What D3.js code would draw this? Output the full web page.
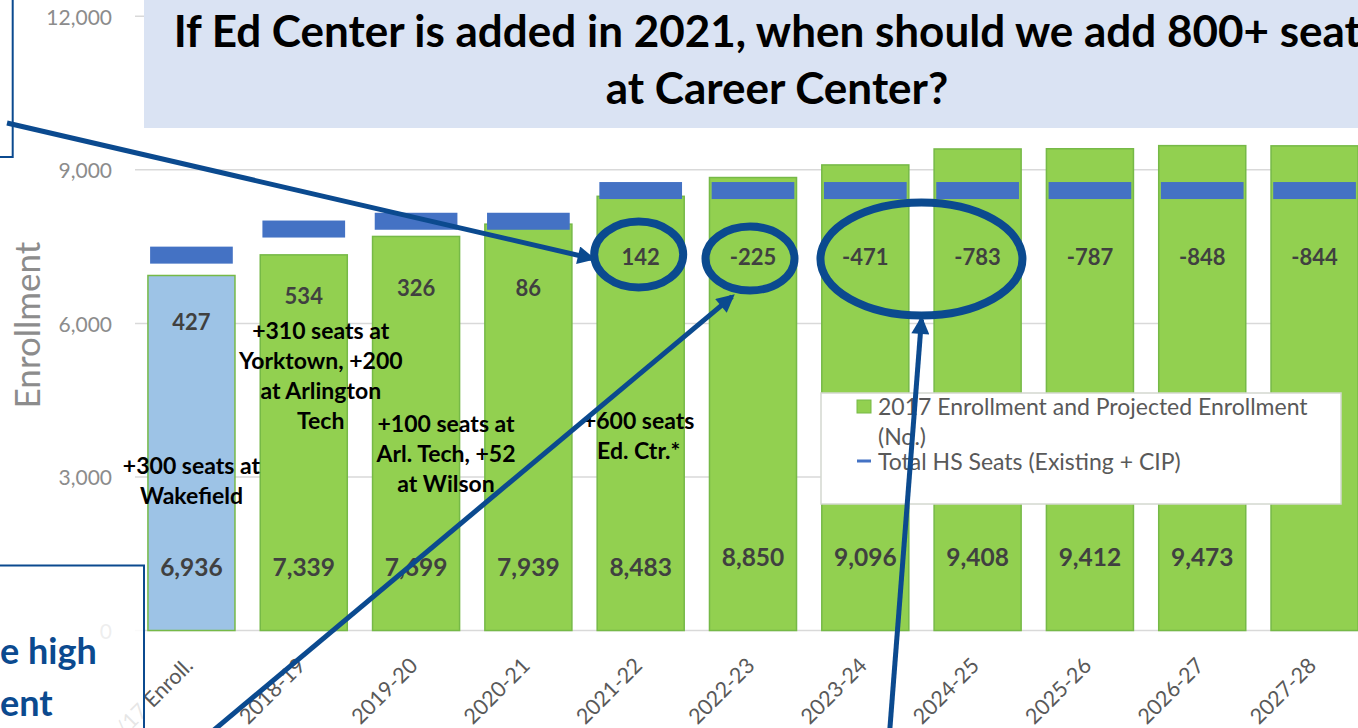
<!DOCTYPE html>
<html><head><meta charset="utf-8">
<script src="https://cdn.jsdelivr.net/npm/d3@7"></script>
<style>body{margin:0;background:#fff;overflow:hidden} svg{display:block;font-family:Lato,"Open Sans",sans-serif}</style>
</head><body><svg id="c" width="1358" height="728"></svg>
<script>
// ---------- data ----------
const categories = ["9/30/17 Enroll.","2018-19","2019-20","2020-21","2021-22","2022-23","2023-24","2024-25","2025-26","2026-27","2027-28"];
const enrollment = [6936,7339,7699,7939,8483,8850,9096,9408,9412,9473,9469];
const hsSeats    = [7363,7873,8025,8025,8625,8625,8625,8625,8625,8625,8625];
const surplus    = [427,534,326,86,142,-225,-471,-783,-787,-848,-844];
const enrollmentLabelShown = [true,true,true,true,true,true,true,true,true,true,false];
const yTicks = [0,3000,6000,9000,12000];
const seriesNames = ["2017 Enrollment and Projected Enrollment","(No.)","Total HS Seats (Existing + CIP)"];
const titleLines = ["If Ed Center is added in 2021, when should we add 800+ seats","at Career Center?"];
const yAxisTitle = "Enrollment";
const seatNotes = [
  {cat:"9/30/17 Enroll.", lines:["+300 seats at","Wakefield"]},
  {cat:"2018-19", lines:["+310 seats at","Yorktown, +200","at Arlington","Tech"]},
  {cat:"2019-20", lines:["+100 seats at","Arl. Tech, +52","at Wilson"]},
  {cat:"2021-22", lines:["+600 seats","Ed. Ctr.*"]}
];
const calloutText = ["e high","ent"];

// ---------- layout ----------
const svg = d3.select("#c");
const W = 1358, H = 728;
const x = d3.scaleBand().domain(categories).range([135.3, 1370.7]).paddingInner(0.225).paddingOuter(0.1125);
const y = d3.scaleLinear().domain([0,12000]).range([630.5, 16.3]);
const cx = c => x(c) + x.bandwidth()/2;
const navy = "#0b4a8f";

// gridlines + tick labels
const g = svg.append("g");
g.selectAll("line.grid").data(yTicks).join("line")
  .attr("x1",135).attr("x2",W).attr("y1",d=>y(d)).attr("y2",d=>y(d))
  .attr("stroke","#d9d9d9").attr("stroke-width",1.5);
g.selectAll("text.tick").data(yTicks).join("text")
  .attr("x",112).attr("y",d=>y(d)).attr("text-anchor","end").attr("dominant-baseline","central")
  .attr("fill","#8c8c8c").attr("font-size",21).text(d=>d3.format(",")(d));

// y axis title
svg.append("text").attr("transform","translate(40,325) rotate(-90)")
  .attr("text-anchor","middle").attr("fill","#8c8c8c").attr("font-size",35).text(yAxisTitle);

// bars
svg.append("g").selectAll("rect").data(categories).join("rect")
  .attr("x",d=>x(d)).attr("width",x.bandwidth())
  .attr("y",(d,i)=>y(enrollment[i])).attr("height",(d,i)=>y(0)-y(enrollment[i]))
  .attr("fill",(d,i)=> i===0 ? "#9dc3e6" : "#92d050")
  .attr("stroke","#76b947").attr("stroke-width",1.5);

// seats markers
const mw = x.bandwidth()*0.95;
svg.append("g").selectAll("rect").data(categories).join("rect")
  .attr("x",d=>cx(d)-mw/2).attr("width",mw)
  .attr("y",(d,i)=>y(hsSeats[i])-7).attr("height",17)
  .attr("fill","#4472c4");

// surplus labels
svg.append("g").selectAll("text").data(categories).join("text")
  .attr("x",d=>cx(d)).attr("y",(d,i)=>y(hsSeats[i])+67.5)
  .attr("text-anchor","middle").attr("dominant-baseline","central")
  .attr("font-weight","bold").attr("font-size",22).attr("fill","#404040")
  .text((d,i)=>surplus[i]);

// enrollment value labels
svg.append("g").selectAll("text").data(categories.filter((d,i)=>enrollmentLabelShown[i])).join("text")
  .attr("x",d=>cx(d)).attr("y",(d)=>{const i=categories.indexOf(d); return i<5?566:556;})
  .attr("text-anchor","middle").attr("dominant-baseline","central")
  .attr("font-weight","bold").attr("font-size",24.5).attr("fill","#404040")
  .text(d=>d3.format(",")(enrollment[categories.indexOf(d)]));

// seat notes
const noteLayout = {"9/30/17 Enroll.":{dx:0,y0:465},"2018-19":{dx:17,y0:330},"2019-20":{dx:30,y0:423},"2021-22":{dx:-2,y0:420}};
seatNotes.forEach(n=>{
  const L = noteLayout[n.cat];
  const t = svg.append("text").attr("text-anchor","middle").attr("font-weight","bold")
    .attr("font-size",23).attr("fill","#000");
  n.lines.forEach((ln,k)=>{
    t.append("tspan").attr("x",cx(n.cat)+L.dx).attr("y",L.y0+k*30).attr("dominant-baseline","central").text(ln);
  });
});

// x axis labels
svg.append("g").selectAll("text").data(categories).join("text")
  .attr("transform",d=>`translate(${cx(d)+3},667) rotate(-45)`)
  .attr("text-anchor","end").attr("fill","#595959").attr("font-size",21.5).text(d=>d);

// legend
const lg = svg.append("g");
lg.append("rect").attr("x",821).attr("y",393).attr("width",520).attr("height",111)
  .attr("fill","#fff").attr("stroke","#d3d8cf").attr("stroke-width",1.5);
lg.append("rect").attr("x",857).attr("y",400).attr("width",14).attr("height",13)
  .attr("fill","#92d050").attr("stroke","#76b947");
lg.append("rect").attr("x",857).attr("y",459.5).attr("width",14).attr("height",3).attr("fill","#4472c4");
[[406,0],[436,1],[461,2]].forEach(([yy,k])=>{
  lg.append("text").attr("x",878).attr("y",yy).attr("dominant-baseline","central")
    .attr("font-size",23).attr("fill","#595959").text(seriesNames[k]);
});

// title box
svg.append("rect").attr("x",144).attr("y",-2).attr("width",1300).attr("height",130).attr("fill","#dae3f3");
svg.append("text").attr("x",777).attr("y",47).attr("text-anchor","middle").attr("font-weight","bold")
  .attr("font-size",44).attr("fill","#000").text(titleLines[0]);
svg.append("text").attr("x",777).attr("y",104).attr("text-anchor","middle").attr("font-weight","bold")
  .attr("font-size",44).attr("fill","#000").text(titleLines[1]);

// callout boxes
svg.append("rect").attr("x",-10).attr("y",-10).attr("width",22.7).attr("height",167)
  .attr("fill","#fff").attr("stroke",navy).attr("stroke-width",2);
svg.append("rect").attr("x",-10).attr("y",565.5).attr("width",154).attr("height",200)
  .attr("fill","#fff").attr("fill-opacity",0.85).attr("stroke",navy).attr("stroke-width",2);
calloutText.forEach((t,k)=>{
  svg.append("text").attr("x",0).attr("y",664+k*52).attr("font-weight","bold")
    .attr("font-size",36).attr("fill",navy).text(t);
});

// ellipses around shortfall labels
const labY = i => y(hsSeats[i])+67.5;
const e1 = {cx:cx("2021-22")-2, cy:labY(4)-2, rx:44.5, ry:33};
const e2 = {cx:cx("2022-23")-3, cy:labY(5)+2, rx:44.5, ry:32};
const e3 = {cx:(cx("2023-24")+cx("2024-25"))/2, cy:labY(6)+2.5, rx:101, ry:56.5};
[e1,e2,e3].forEach(e=>{
  svg.append("ellipse").attr("cx",e.cx).attr("cy",e.cy).attr("rx",e.rx).attr("ry",e.ry)
    .attr("fill","none").attr("stroke",navy).attr("stroke-width",8);
});

// arrows
const defs = svg.append("defs");
defs.append("marker").attr("id","ah").attr("viewBox","0 0 10 10").attr("refX",8).attr("refY",5)
  .attr("markerWidth",22).attr("markerHeight",18).attr("markerUnits","userSpaceOnUse").attr("orient","auto")
  .append("path").attr("d","M0,0 L10,5 L0,10 z").attr("fill",navy);
const arrows = [
  [[7,123],[e1.cx-e1.rx-2, e1.cy+4]],
  [[202,740],[e2.cx-18, e2.cy+e2.ry+6]],
  [[889,740],[e3.cx, e3.cy+e3.ry+4]]
];
arrows.forEach(([a,b])=>{
  svg.append("line").attr("x1",a[0]).attr("y1",a[1]).attr("x2",b[0]).attr("y2",b[1])
    .attr("stroke",navy).attr("stroke-width",5).attr("marker-end","url(#ah)");
});
</script></body></html>
